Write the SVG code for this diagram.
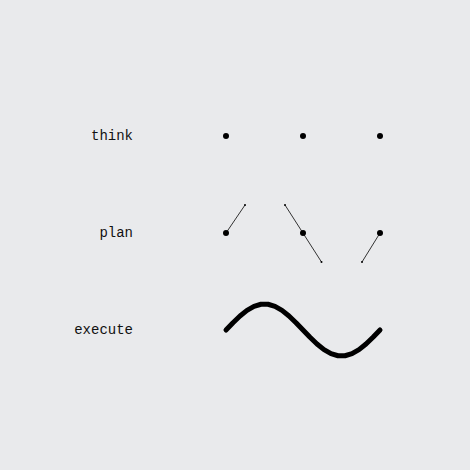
<svg xmlns="http://www.w3.org/2000/svg" width="470" height="470" viewBox="0 0 470 470">
<style>
.lbl{font-family:"Liberation Mono","DejaVu Sans Mono",monospace;font-size:14px;fill:#111;text-anchor:end}
.dot{fill:#000}
.tip{fill:#000}
.thin{stroke:#333;stroke-width:1;fill:none}
.wave{stroke:#000;stroke-width:5;fill:none;stroke-linecap:round;stroke-linejoin:round}
</style>
<rect width="470" height="470" fill="#e9eaec"/>
<g id="connectors">
<line class="thin" x1="226" y1="233" x2="245" y2="205"/>
<line class="thin" x1="285" y1="205" x2="321.5" y2="262"/>
<line class="thin" x1="380" y1="233" x2="362" y2="262"/>
<polyline class="wave" points="226,330 233,322.68 240,315.94 247,310.35 254,306.35 261,304.27 268,304.27 275,306.35 282,310.35 289,315.94 296,322.68 303,330 310,337.32 317,344.06 324,349.65 331,353.65 338,355.73 345,355.73 352,353.65 359,349.65 366,344.06 373,337.32 380,330"/>
</g>
<g id="think">
<text class="lbl" x="133" y="140">think</text>
<circle class="dot" cx="226" cy="136" r="3"/>
<circle class="dot" cx="303" cy="136" r="3"/>
<circle class="dot" cx="380" cy="136" r="3"/>
</g>
<g id="plan">
<text class="lbl" x="133" y="237">plan</text>
<circle class="dot" cx="226" cy="233" r="3"/>
<circle class="dot" cx="303" cy="233" r="3"/>
<circle class="dot" cx="380" cy="233" r="3"/>
<circle class="tip" cx="245" cy="205" r="1"/>
<circle class="tip" cx="285" cy="205" r="1"/>
<circle class="tip" cx="321.5" cy="262" r="1"/>
<circle class="tip" cx="362" cy="262" r="1"/>
</g>
<g id="execute">
<text class="lbl" x="133" y="334">execute</text>
</g>
</svg>
